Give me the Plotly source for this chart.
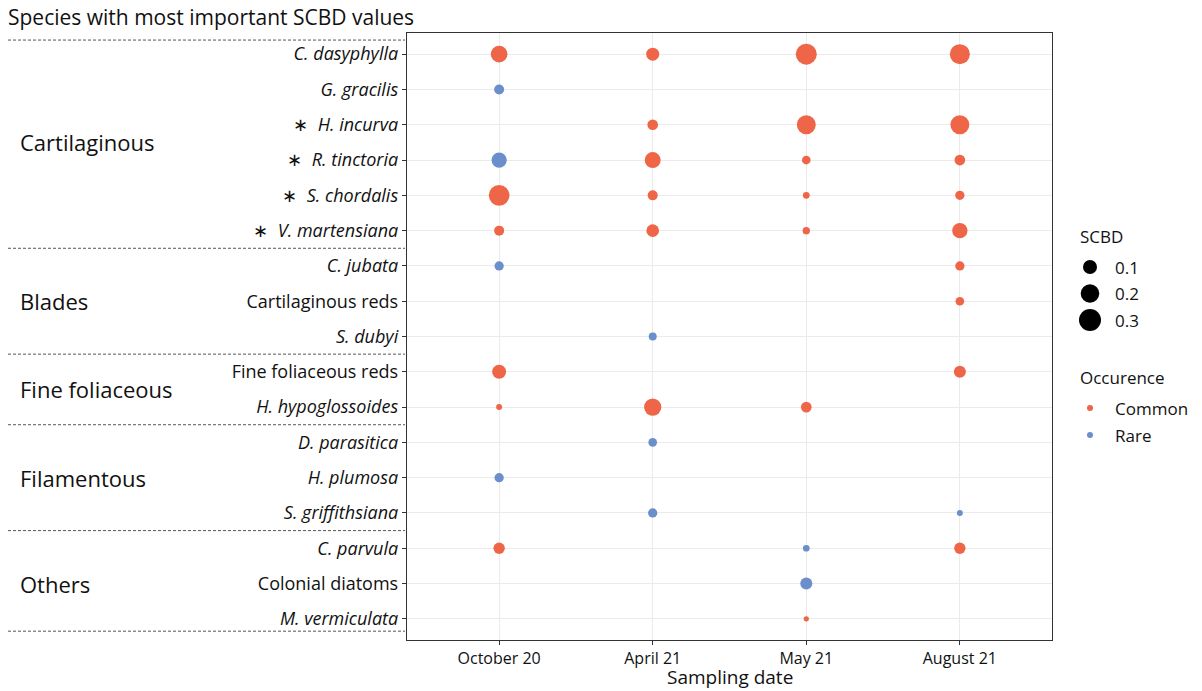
import plotly.graph_objects as go
import numpy as np

# ---------------- data ----------------
dates = ["October 20", "April 21", "May 21", "August 21"]
species = ["C. dasyphylla", "G. gracilis", "H. incurva", "R. tinctoria", "S. chordalis",
           "V. martensiana", "C. jubata", "Cartilaginous reds", "S. dubyi",
           "Fine foliaceous reds", "H. hypoglossoides", "D. parasitica", "H. plumosa",
           "S. griffithsiana", "C. parvula", "Colonial diatoms", "M. vermiculata"]
species_labels = ["<i>C. dasyphylla</i>", "<i>G. gracilis</i>", "∗  <i>H. incurva</i>",
                  "∗  <i>R. tinctoria</i>", "∗  <i>S. chordalis</i>", "∗  <i>V. martensiana</i>",
                  "<i>C. jubata</i>", "Cartilaginous reds", "<i>S. dubyi</i>",
                  "Fine foliaceous reds", "<i>H. hypoglossoides</i>", "<i>D. parasitica</i>",
                  "<i>H. plumosa</i>", "<i>S. griffithsiana</i>", "<i>C. parvula</i>",
                  "Colonial diatoms", "<i>M. vermiculata</i>"]
groups = ["Cartilaginous", "Blades", "Fine foliaceous", "Filamentous", "Others"]
group_sizes = [6, 3, 2, 3, 3]

# SCBD per species (order above) for each sampling date; None = absent
scbd_oct = [0.155, 0.04, None, 0.125, 0.26, 0.04, 0.032, None, None, 0.10, 0.007,
            None, 0.032, None, 0.057, None, None]
occ_oct = ["Common", "Rare", None, "Rare", "Common", "Common", "Rare", None, None, "Common",
           "Common", None, "Rare", None, "Common", None, None]
scbd_apr = [0.082, None, 0.048, 0.14, 0.04, 0.077, None, None, 0.02, None, 0.17,
            0.026, None, 0.032, None, None, None]
occ_apr = ["Common", None, "Common", "Common", "Common", "Common", None, None, "Rare", None,
           "Common", "Rare", None, "Rare", None, None, None]
scbd_may = [0.269, None, 0.212, 0.026, 0.011, 0.015, None, None, None, None, 0.049,
            None, None, None, 0.011, 0.067, 0.004]
occ_may = ["Common", None, "Common", "Common", "Common", "Common", None, None, None, None,
           "Common", None, None, None, "Rare", "Rare", "Common"]
scbd_aug = [0.24, None, 0.212, 0.049, 0.032, 0.125, 0.032, 0.026, None, 0.067, None,
            None, None, 0.007, 0.057, None, None]
occ_aug = ["Common", None, "Common", "Common", "Common", "Common", "Common", "Common", None,
           "Common", None, None, None, "Rare", "Common", None, None]

legend_sizes = [0.1, 0.2, 0.3]
occurrences = ["Common", "Rare"]

# ---------------- style ----------------
colors = {"Common": "#EF6548", "Rare": "#6A8FCB"}
FONT = "Open Sans"
TXT = "#111"
W, H = 1202, 691
ML, MR, MT, MB = 407, 2, 33, 51
PANEL_R = 1052
plot_w = W - ML - MR
plot_h = H - MT - MB


def diam(v):
    return 3.1 + 34.5 * np.sqrt(np.asarray(v, dtype=float))


def px_to_paper_x(px):
    return (px - ML) / plot_w


def px_to_paper_y(py):
    return (H - MB - py) / plot_h


scbd_cols = [scbd_oct, scbd_apr, scbd_may, scbd_aug]
occ_cols = [occ_oct, occ_apr, occ_may, occ_aug]

fig = go.Figure()
for occ in occurrences:
    xs, ys, vs = [], [], []
    for di, (vals, occs) in enumerate(zip(scbd_cols, occ_cols)):
        for si, (v, o) in enumerate(zip(vals, occs)):
            if v is not None and o == occ:
                xs.append(di)
                ys.append(si)
                vs.append(v)
    fig.add_trace(go.Scatter(
        x=xs, y=ys, mode="markers", showlegend=False,
        marker=dict(size=diam(vs), sizemode="diameter", color=colors[occ], opacity=1,
                    line=dict(width=0)),
        hovertext=[f"{species[y]} – {dates[x]}: {v}" for x, y, v in zip(xs, ys, vs)],
    ))

# ---------------- manual legend (pixel-coordinate axes) ----------------
leg_x = 1090
size_y0, size_dy = 267, 26.5
fig.add_trace(go.Scatter(
    x=[leg_x] * len(legend_sizes), y=[size_y0 + i * size_dy for i in range(len(legend_sizes))],
    xaxis="x2", yaxis="y2", mode="markers", showlegend=False, hoverinfo="skip",
    marker=dict(size=diam(legend_sizes), sizemode="diameter", color="black", opacity=1,
                line=dict(width=0)),
))
occ_y0, occ_dy = 408, 27
fig.add_trace(go.Scatter(
    x=[leg_x] * len(occurrences), y=[occ_y0 + i * occ_dy for i in range(len(occurrences))],
    xaxis="x2", yaxis="y2", mode="markers", showlegend=False, hoverinfo="skip",
    marker=dict(size=6, color=[colors[o] for o in occurrences], opacity=1, line=dict(width=0)),
))

annotations = []
annotations.append(dict(x=1078, y=236, xref="x2", yref="y2", text="SCBD", showarrow=False,
                        xanchor="left", yanchor="middle", font=dict(size=17, family=FONT, color=TXT)))
for i, s in enumerate(legend_sizes):
    annotations.append(dict(x=1113, y=size_y0 + i * size_dy, xref="x2", yref="y2", text=f"{s}",
                            showarrow=False, xanchor="left", yanchor="middle",
                            font=dict(size=17, family=FONT, color=TXT)))
annotations.append(dict(x=1078, y=377, xref="x2", yref="y2", text="Occurence", showarrow=False,
                        xanchor="left", yanchor="middle", font=dict(size=17, family=FONT, color=TXT)))
for i, o in enumerate(occurrences):
    annotations.append(dict(x=1113, y=occ_y0 + i * occ_dy, xref="x2", yref="y2", text=o,
                            showarrow=False, xanchor="left", yanchor="middle",
                            font=dict(size=17, family=FONT, color=TXT)))

# ---------------- group labels & separators ----------------
shapes = []
bounds = np.cumsum([0] + group_sizes)
sep_ys = [-0.4] + [b - 0.5 for b in bounds[1:-1]] + [16.35]
for yv in sep_ys:
    shapes.append(dict(type="line", xref="paper", yref="y", x0=px_to_paper_x(8),
                       x1=px_to_paper_x(405), y0=yv, y1=yv,
                       line=dict(color="#555", width=1, dash="3px,2px")))
for g, a, b in zip(groups, bounds[:-1], bounds[1:]):
    annotations.append(dict(x=px_to_paper_x(18), y=(a + b - 1) / 2, xref="paper", yref="y",
                            text=g, showarrow=False, xanchor="left", yanchor="middle",
                            font=dict(size=22, family=FONT, color=TXT)))

# x-axis title
annotations.append(dict(x=1.5, y=px_to_paper_y(677), xref="x", yref="paper", text="Sampling date",
                        showarrow=False, xanchor="center", yanchor="middle",
                        font=dict(size=19, family=FONT, color=TXT)))

fig.update_layout(
    width=W, height=H,
    margin=dict(l=ML, r=MR, t=MT, b=MB, autoexpand=False),
    plot_bgcolor="white", paper_bgcolor="white",
    font=dict(family=FONT, color=TXT),
    title=dict(text="Species with most important SCBD values", xref="container", yref="container",
               x=8 / W, y=1 - 18 / H, xanchor="left", yanchor="middle",
               font=dict(size=21, family=FONT, color=TXT)),
    xaxis=dict(domain=[0, (PANEL_R - ML) / plot_w], range=[-0.6, 3.6],
               tickvals=list(range(len(dates))), ticktext=dates,
               showgrid=True, gridcolor="#EBEBEB", gridwidth=1.3, zeroline=False,
               showline=True, linecolor="#333", linewidth=1.4, mirror=True,
               ticks="outside", ticklen=4, tickcolor="#333",
               tickfont=dict(size=16, family=FONT, color=TXT)),
    yaxis=dict(range=[len(species) - 1 + 0.6, -0.6],
               tickvals=list(range(len(species))), ticktext=species_labels,
               showgrid=True, gridcolor="#EBEBEB", gridwidth=1.3, zeroline=False,
               showline=True, linecolor="#333", linewidth=1.4, mirror=True,
               ticks="outside", ticklen=4, tickcolor="#333",
               tickfont=dict(size=18, family=FONT, color=TXT)),
    xaxis2=dict(domain=[(PANEL_R + 8 - ML) / plot_w, 1], range=[PANEL_R + 8, W - MR],
                visible=False, anchor="y2"),
    yaxis2=dict(domain=[0, 1], range=[H - MB, MT], visible=False, anchor="x2"),
    shapes=shapes,
    annotations=annotations,
)

fig.write_html("out.html")
